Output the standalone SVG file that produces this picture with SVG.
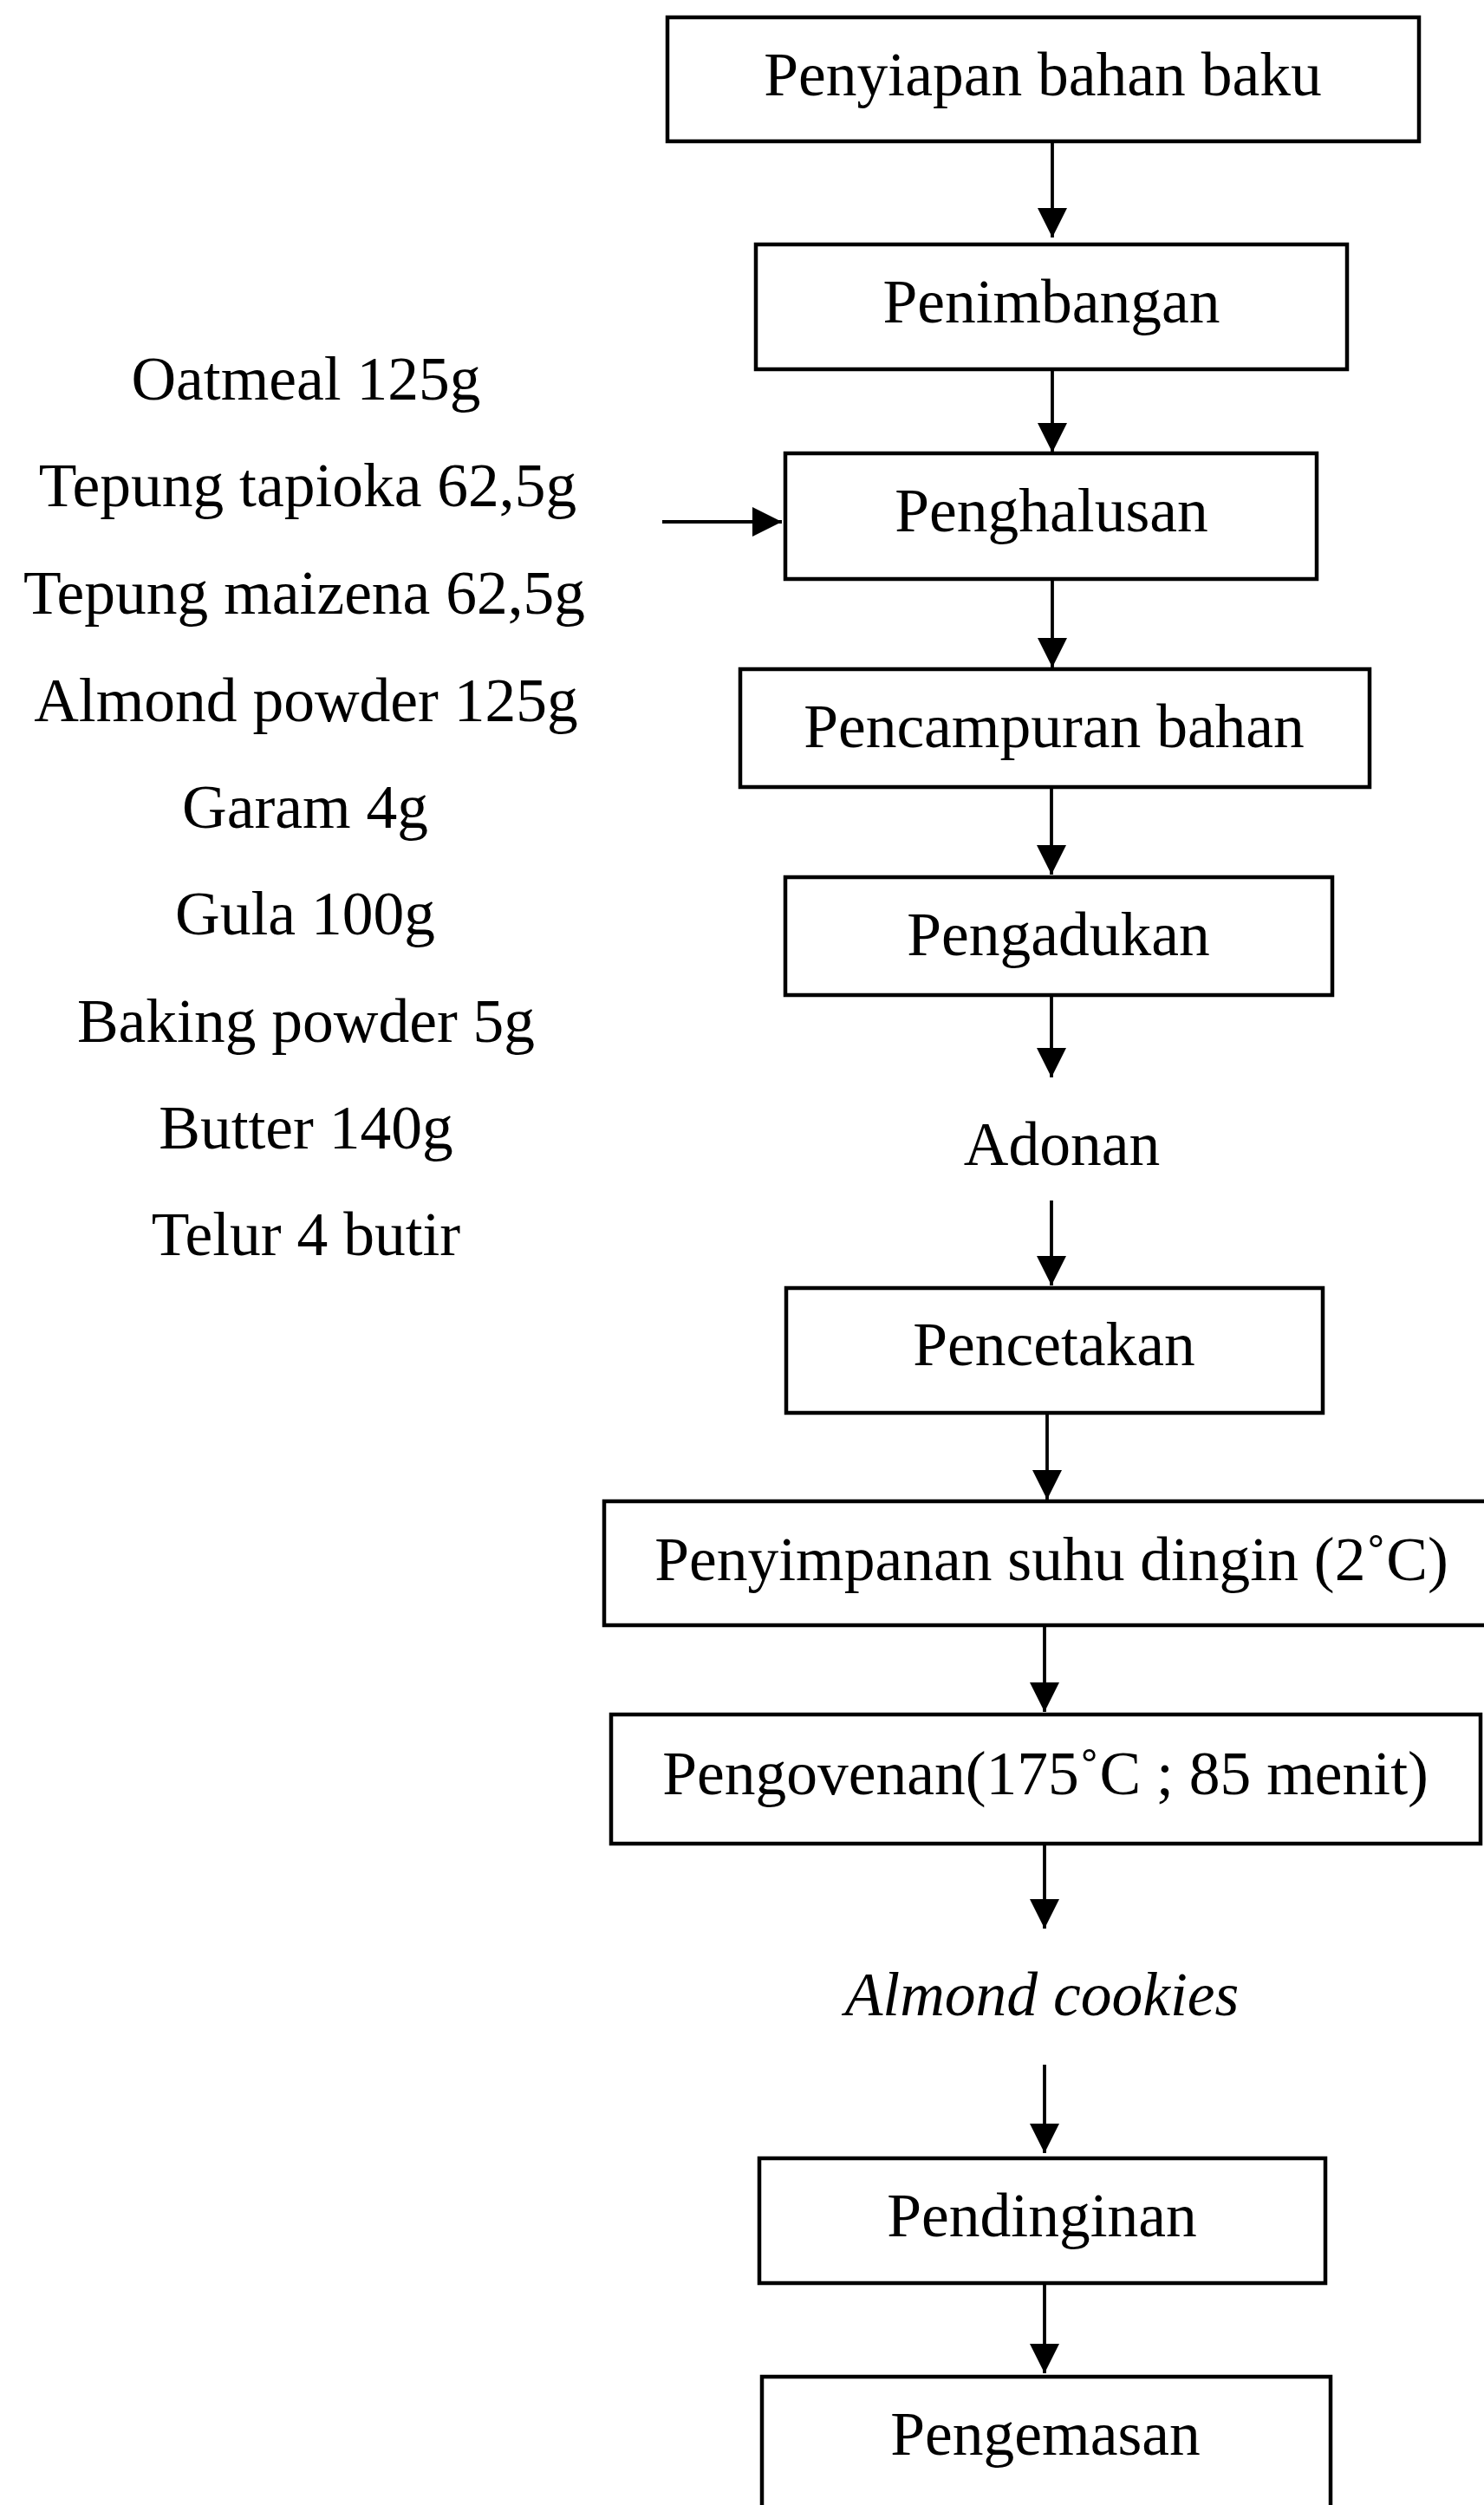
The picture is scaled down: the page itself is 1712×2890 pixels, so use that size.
<svg xmlns="http://www.w3.org/2000/svg" width="1712" height="2890" viewBox="0 0 1712 2890">
<style>
.box{fill:#ffffff;stroke:#000000;stroke-width:4.5}
.t{font-family:"Liberation Serif","Times New Roman",serif;font-size:71.5px;fill:#000000;text-anchor:middle}
.it{font-style:italic}
.c{stroke:#000000;stroke-width:3.8;fill:none}
</style>
<defs>
<marker id="ah" viewBox="0 0 34 34" refX="34" refY="17" markerWidth="34" markerHeight="34" markerUnits="userSpaceOnUse" orient="auto">
<path d="M0,0 L34,17 L0,34 Z" fill="#000000"/>
</marker>
</defs>
<rect width="1712" height="2890" fill="#ffffff"/>
<g id="connectors">
<line class="c" x1="1214" y1="163" x2="1214" y2="274" marker-end="url(#ah)"/>
<line class="c" x1="1214" y1="426" x2="1214" y2="522" marker-end="url(#ah)"/>
<line class="c" x1="1214" y1="668" x2="1214" y2="770" marker-end="url(#ah)"/>
<line class="c" x1="1213" y1="908" x2="1213" y2="1009" marker-end="url(#ah)"/>
<line class="c" x1="1213" y1="1148" x2="1213" y2="1243" marker-end="url(#ah)"/>
<line class="c" x1="1213" y1="1385" x2="1213" y2="1483" marker-end="url(#ah)"/>
<line class="c" x1="1208" y1="1630" x2="1208" y2="1730" marker-end="url(#ah)"/>
<line class="c" x1="1205" y1="1875" x2="1205" y2="1975" marker-end="url(#ah)"/>
<line class="c" x1="1205" y1="2127" x2="1205" y2="2225" marker-end="url(#ah)"/>
<line class="c" x1="1205" y1="2382" x2="1205" y2="2484" marker-end="url(#ah)"/>
<line class="c" x1="1205" y1="2634" x2="1205" y2="2738" marker-end="url(#ah)"/>
<line class="c" x1="764" y1="602" x2="902" y2="602" marker-end="url(#ah)"/>
</g>
<g id="n1"><rect class="box" x="770" y="20" width="867" height="143"/><text class="t" x="1203" y="110">Penyiapan bahan baku</text></g>
<g id="n2"><rect class="box" x="872" y="282" width="682" height="144"/><text class="t" x="1213" y="372">Penimbangan</text></g>
<g id="n3"><rect class="box" x="906" y="523" width="613" height="145"/><text class="t" x="1213" y="613">Penghalusan</text></g>
<g id="n4"><rect class="box" x="854" y="772" width="726" height="136"/><text class="t" x="1216" y="862">Pencampuran bahan</text></g>
<g id="n5"><rect class="box" x="906" y="1012" width="631" height="136"/><text class="t" x="1221" y="1102">Pengadukan</text></g>
<g id="n6"><text class="t" x="1225" y="1344">Adonan</text></g>
<g id="n7"><rect class="box" x="907" y="1486" width="619" height="144"/><text class="t" x="1216" y="1575">Pencetakan</text></g>
<g id="n8"><rect class="box" x="697" y="1732" width="1030" height="143"/><text class="t" x="1213" y="1823">Penyimpanan suhu dingin (2˚C)</text></g>
<g id="n9"><rect class="box" x="705" y="1978" width="1003" height="149"/><text class="t" x="1206" y="2070">Pengovenan(175˚C ; 85 menit)</text></g>
<g id="n10"><text class="t it" x="1202" y="2325">Almond cookies</text></g>
<g id="n11"><rect class="box" x="876" y="2490" width="653" height="144"/><text class="t" x="1202" y="2580">Pendinginan</text></g>
<g id="n12"><rect class="box" x="879" y="2742" width="656" height="200"/><text class="t" x="1206" y="2832">Pengemasan</text></g>
<g id="ingredients">
<text class="t" x="353" y="461">Oatmeal 125g</text>
<text class="t" x="355" y="584">Tepung tapioka 62,5g</text>
<text class="t" x="351" y="708">Tepung maizena 62,5g</text>
<text class="t" x="353" y="832">Almond powder 125g</text>
<text class="t" x="352" y="955">Garam 4g</text>
<text class="t" x="352" y="1078">Gula 100g</text>
<text class="t" x="353" y="1202">Baking powder 5g</text>
<text class="t" x="353" y="1325">Butter 140g</text>
<text class="t" x="353" y="1448">Telur 4 butir</text>
</g>
</svg>
